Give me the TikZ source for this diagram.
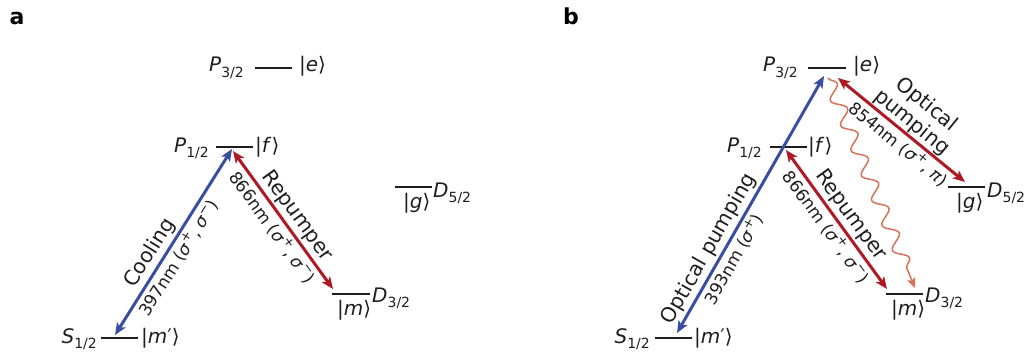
\documentclass[tikz,border=0pt]{standalone}
\usepackage{fontspec}
\setmainfont{DejaVu Sans}
\usetikzlibrary{arrows.meta,decorations.pathmorphing}
\definecolor{cblue}{RGB}{58,78,160}
\definecolor{cred}{RGB}{175,25,35}
\definecolor{csal}{RGB}{210,115,90}
\definecolor{clev}{RGB}{30,30,30}
\newcommand{\lsub}[1]{\raisebox{-0.28em}{\fontsize{14}{14}\selectfont #1}}
\newcommand{\lsup}[1]{\raisebox{0.4em}{\fontsize{13}{13}\selectfont #1}}
\newcommand{\myket}[1]{|\textit{#1}⟩}
\begin{document}
\begin{tikzpicture}[x=1pt,y=-1pt,
  font=\fontsize{20}{22}\selectfont,
  level/.style={line width=2.4pt, draw=clev},
  lab/.style={inner sep=0pt, text=clev},
  tipb/.tip={Stealth[length=12pt,width=10pt,inset=3pt]},
  beam/.style={line width=3pt, tipb-tipb},
  big/.style={font=\fontsize{20.5}{22}\selectfont, sloped, inner sep=2.5pt, text=clev, align=center},
  small/.style={font=\fontsize{17}{18}\selectfont, sloped, inner sep=2.5pt, text=clev},
  panel/.style={font=\fontsize{22}{22}\selectfont\bfseries, anchor=base, inner sep=0pt}]
\path[use as bounding box] (0,0) rectangle (1036,353);

% ---------- panel a ----------
\node[panel] (pa) at (17,25) {a};
\draw[level] (255,68) -- (292,68);
\draw[level] (216,147) -- (253,147);
\draw[level] (395,187) -- (432,187);
\draw[level] (332,294) -- (370,294);
\draw[level] (101,338) -- (138,338);
\node[lab, anchor=base east] (aP3) at (244,72) {\textit{P}\lsub{3/2}};
\node[lab, anchor=base west] (ae) at (299,72) {\myket{e}};
\node[lab, anchor=base east] (aP1) at (209,152) {\textit{P}\lsub{1/2}};
\node[lab, anchor=base west] (af) at (255,152) {\myket{f}};
\node[lab, anchor=base west] (aD5) at (433,197) {\textit{D}\lsub{5/2}};
\node[lab, anchor=base west] (ag) at (403,208) {\myket{g}};
\node[lab, anchor=base west] (aD3) at (372,302) {\textit{D}\lsub{3/2}};
\node[lab, anchor=base west] (am) at (337,315) {\myket{m}};
\node[lab, anchor=base east] (aS1) at (97,343) {\textit{S}\lsub{1/2}};
\node[lab, anchor=base west] (amp) at (141,343) {|\textit{m}′⟩};
\coordinate (aSt) at (115,335);
\coordinate (aFb) at (232,149);
\coordinate (aFr) at (233,151);
\coordinate (aMt) at (333,289);
\draw[beam, cblue] (aSt) -- node[big, above, pos=0.4] (aCool) {Cooling}
  node[small, below, pos=0.45] (aCnm) {397nm (\textit{σ}\lsup{+}, \textit{σ}\lsup{−})} (aFb);
\draw[beam, cred] (aFr) -- node[big, above, pos=0.53] (aRep) {Repumper}
  node[small, below, pos=0.5] (aRnm) {866nm (\textit{σ}\lsup{+}, \textit{σ}\lsup{−})} (aMt);

% ---------- panel b ----------
\node[panel] (pb) at (571,25) {b};
\draw[level] (808,68) -- (846,68);
\draw[level] (770,147) -- (807,147);
\draw[level] (948,187) -- (985,187);
\draw[level] (886,294) -- (923,294);
\draw[level] (655,338) -- (692,338);
\node[lab, anchor=base east] (bP3) at (798,72) {\textit{P}\lsub{3/2}};
\node[lab, anchor=base west] (be) at (853,72) {\myket{e}};
\node[lab, anchor=base east] (bP1) at (762,152) {\textit{P}\lsub{1/2}};
\node[lab, anchor=base west] (bf) at (808,152) {\myket{f}};
\node[lab, anchor=base west] (bD5) at (987,197) {\textit{D}\lsub{5/2}};
\node[lab, anchor=base west] (bg) at (956,208) {\myket{g}};
\node[lab, anchor=base west] (bD3) at (925,302) {\textit{D}\lsub{3/2}};
\node[lab, anchor=base west] (bm) at (891,315) {\myket{m}};
\node[lab, anchor=base east] (bS1) at (650,343) {\textit{S}\lsub{1/2}};
\node[lab, anchor=base west] (bmp) at (694,343) {|\textit{m}′⟩};
\coordinate (bSt) at (677,333);
\coordinate (bEb) at (824,76);
\coordinate (bEr) at (838,78);
\coordinate (bGt) at (965,182);
\coordinate (bFr) at (786,150);
\coordinate (bMt) at (887,289);
\coordinate (bEw) at (828,78);
\coordinate (bMw) at (915,288);
\draw[csal, line width=1.5pt, -{Stealth[length=10pt,width=8.5pt,inset=2pt]},
  decorate, decoration={snake, segment length=27pt, amplitude=6.5pt, post length=14pt}]
  (bEw) -- (bMw);
\draw[beam, cblue] (bSt) -- node[big, above, pos=0.3] (bOp) {Optical pumping}
  node[small, below, pos=0.31] (bOnm) {393nm (\textit{σ}\lsup{+})} (bEb);
\draw[beam, cred] (bEr) -- node[big, above, pos=0.52, inner sep=1pt] (bOp2) {Optical\\[1pt]pumping}
  node[small, below, pos=0.54] (bOnm2) {854nm (\textit{σ}\lsup{+}, \textit{π})} (bGt);
\draw[beam, cred] (bFr) -- node[big, above, pos=0.53] (bRep) {Repumper}
  node[small, below, pos=0.5] (bRnm) {866nm (\textit{σ}\lsup{+}, \textit{σ}\lsup{−})} (bMt);
\end{tikzpicture}
\end{document}
